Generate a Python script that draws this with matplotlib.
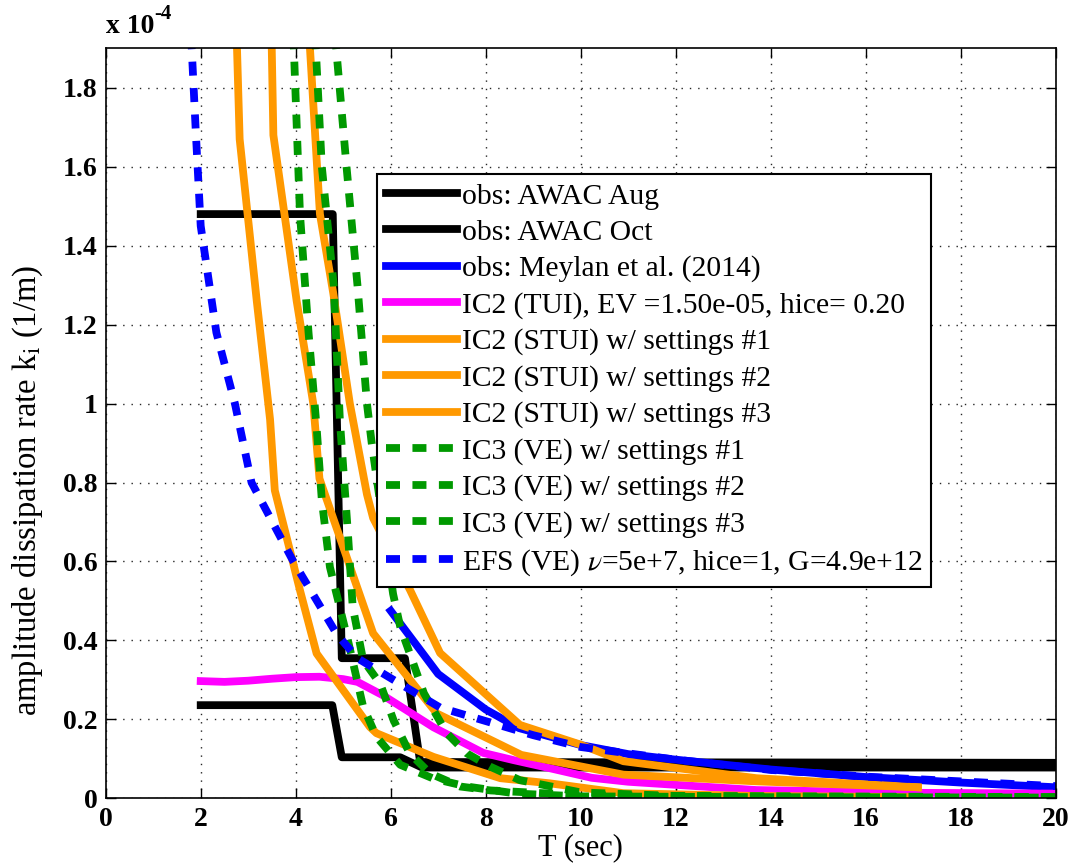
import matplotlib
matplotlib.use("Agg")
import matplotlib.pyplot as plt

plt.rcParams['font.family'] = ['Liberation Serif', 'DejaVu Serif']
plt.rcParams['mathtext.fontset'] = 'stix'

# values of k_i are in units of 1e-4 (1/m), T in sec
aug_T = [2.0, 4.78, 4.97, 6.3, 6.62, 20.0]
aug_k = [1.48, 1.48, 0.355, 0.355, 0.092, 0.090]
oct_T = [2.0, 4.77, 4.97, 6.2, 6.66, 20.0]
oct_k = [0.236, 0.236, 0.104, 0.104, 0.078, 0.078]

meylan_T = [6.0, 7.0, 8.0, 8.7, 10.0, 11.0, 12.0, 14.0, 16.0, 18.0, 20.0]
meylan_k = [0.475, 0.315, 0.225, 0.178, 0.135, 0.112, 0.098, 0.073, 0.054, 0.040, 0.028]

tui_T = [2.0, 2.5, 3.0, 3.5, 4.0, 4.5, 5.0, 5.3, 5.85, 6.9, 7.95, 8.58, 9.36, 10.23, 11.0, 13.7, 17.0, 20.0]
tui_k = [0.297, 0.295, 0.298, 0.303, 0.307, 0.308, 0.302, 0.295, 0.26, 0.18, 0.115, 0.097, 0.076, 0.052, 0.042, 0.021, 0.014, 0.012]

stui1_T = [2.74, 2.82, 3.18, 3.46, 3.56, 4.09, 4.44, 5.56, 5.7, 6.9, 8.31, 9.35, 10.9, 13.7, 17.1]
stui1_k = [2.0, 1.67, 1.26, 0.96, 0.78, 0.527, 0.367, 0.181, 0.165, 0.105, 0.051, 0.038, 0.013, 0.006, 0.003]
stui2_T = [3.48, 3.53, 4.02, 4.37, 4.5, 5.63, 6.97, 8.31, 8.75, 10.9, 13.7, 17.1]
stui2_k = [2.0, 1.68, 1.26, 1.0, 0.81, 0.418, 0.215, 0.136, 0.11, 0.06, 0.043, 0.028]
stui3_T = [4.25, 4.51, 4.79, 5.14, 5.5, 5.63, 6.41, 7.04, 8.72, 10.0, 10.9, 13.7, 17.1]
stui3_k = [2.0, 1.48, 1.28, 1.0, 0.77, 0.71, 0.527, 0.368, 0.186, 0.136, 0.094, 0.051, 0.028]

ve1_T = [3.93, 4.09, 4.27, 4.44, 4.55, 4.72, 5.1, 5.42, 5.7, 6.2, 6.9, 7.6, 8.65, 10.0, 14.0, 20.0]
ve1_k = [2.0, 1.48, 1.18, 0.94, 0.755, 0.586, 0.40, 0.232, 0.156, 0.085, 0.05, 0.03, 0.012, 0.005, 0.003, 0.002]
ve2_T = [4.38, 4.55, 4.8, 4.93, 5.1, 5.2, 5.42, 5.78, 6.06, 6.4, 6.83, 7.46, 8.1, 10.0, 14.0, 20.0]
ve2_k = [2.0, 1.6, 1.3, 0.958, 0.67, 0.485, 0.35, 0.29, 0.198, 0.114, 0.063, 0.03, 0.02, 0.008, 0.004, 0.003]
ve3_T = [4.78, 5.07, 5.3, 5.5, 5.6, 6.05, 6.2, 6.7, 7.18, 7.6, 8.1, 8.72, 10.0, 12.0, 20.0]
ve3_k = [2.0, 1.6, 1.3, 1.0, 0.9, 0.518, 0.435, 0.266, 0.165, 0.114, 0.08, 0.046, 0.015, 0.006, 0.003]

efs_T = [1.77, 1.9, 2.0, 2.33, 2.72, 3.07, 3.95, 4.87, 5.3, 6.2, 7.04, 9.0, 10.0, 12.0, 14.0, 16.0, 18.0, 20.0]
efs_k = [2.0, 1.68, 1.45, 1.18, 1.0, 0.80, 0.60, 0.415, 0.355, 0.29, 0.23, 0.16, 0.13, 0.098, 0.072, 0.055, 0.043, 0.031]

xticks = list(range(0, 21, 2))
yticks = [0, 0.2, 0.4, 0.6, 0.8, 1.0, 1.2, 1.4, 1.6, 1.8]
ytick_labels = ['0', '0.2', '0.4', '0.6', '0.8', '1', '1.2', '1.4', '1.6', '1.8']

orange = '#ff9900'
green = '#009900'
lw = 5.6
dash = (0, (1.8, 1.6))

fig = plt.figure(figsize=(10.71, 8.67), dpi=100)
ax = fig.add_axes([0.0987, 0.0792, 0.887, 0.8651])

ax.plot(aug_T, aug_k, color='black', lw=lw, label='obs: AWAC Aug')
ax.plot(oct_T, oct_k, color='black', lw=lw, label='obs: AWAC Oct')
ax.plot(meylan_T, meylan_k, color='blue', lw=lw, label='obs: Meylan et al. (2014)')
ax.plot(tui_T, tui_k, color='magenta', lw=lw, label='IC2 (TUI), EV =1.50e-05, hice= 0.20')
ax.plot(stui1_T, stui1_k, color=orange, lw=lw, label='IC2 (STUI) w/ settings #1')
ax.plot(stui2_T, stui2_k, color=orange, lw=lw, label='IC2 (STUI) w/ settings #2')
ax.plot(stui3_T, stui3_k, color=orange, lw=lw, label='IC2 (STUI) w/ settings #3')
ax.plot(ve1_T, ve1_k, color=green, lw=lw, ls=dash, label='IC3 (VE) w/ settings #1')
ax.plot(ve2_T, ve2_k, color=green, lw=lw, ls=dash, label='IC3 (VE) w/ settings #2')
ax.plot(ve3_T, ve3_k, color=green, lw=lw, ls=dash, label='IC3 (VE) w/ settings #3')
ax.plot(efs_T, efs_k, color='blue', lw=lw, ls=dash,
        label=r'EFS (VE) $\nu$=5e+7, hice=1, G=4.9e+12')

ax.set_xlim(0, 20)
ax.set_ylim(0, 1.9)
ax.set_xticks(xticks)
ax.set_xticklabels([str(t) for t in xticks], fontsize=20, fontweight='bold')
ax.set_yticks(yticks)
ax.set_yticklabels(ytick_labels, fontsize=20, fontweight='bold')
ax.tick_params(direction='in', length=7, width=1, top=True, right=True, pad=6)
ax.grid(True, color='0.15', ls=(0, (1, 5)), lw=1)
for sp in ax.spines.values():
    sp.set_linewidth(1.2)

ax.set_xlabel('T (sec)', fontsize=22, labelpad=1)
ax.set_ylabel(r'amplitude dissipation rate k$_{\mathrm{i}}$ (1/m)', fontsize=23.5)
ax.yaxis.set_label_coords(-0.064, 0.41)

# exponent label like matlab: "x 10" with a raised "-4"
ax.text(0.0, 1.012, 'x 10', transform=ax.transAxes, fontsize=20,
        fontweight='bold', ha='left', va='bottom')
ax.annotate('-4', xy=(0.0, 1.012), xycoords='axes fraction', xytext=(35, 11),
            textcoords='offset points', fontsize=15, fontweight='bold',
            ha='left', va='bottom')

leg = ax.legend(loc='upper left', bbox_to_anchor=(0.2856, 0.8324), fontsize=21.3,
                handlelength=2.4, handletextpad=0.17, labelspacing=0.32,
                borderaxespad=0, borderpad=0.3, fancybox=False,
                framealpha=1, edgecolor='black')
leg.get_frame().set_linewidth(1.5)

fig.savefig('out.png', dpi=100)
